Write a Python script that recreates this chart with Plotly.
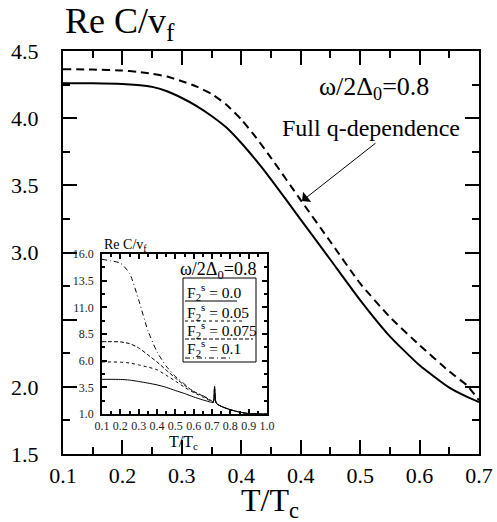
import plotly.graph_objects as go

# ---------------- data ----------------
# main panel
t_main = [0.10, 0.15, 0.20, 0.225, 0.25, 0.275, 0.30, 0.325, 0.35, 0.375, 0.40, 0.425, 0.45,
          0.50, 0.55, 0.60, 0.65, 0.70, 0.75, 0.78, 0.80]
re_solid = [4.26, 4.26, 4.255, 4.247, 4.233, 4.20, 4.15, 4.09, 4.016, 3.93, 3.815, 3.685, 3.545,
            3.245, 2.946, 2.646, 2.376, 2.16, 1.994, 1.925, 1.887]
re_dashed = [4.365, 4.362, 4.355, 4.345, 4.33, 4.31, 4.275, 4.235, 4.18, 4.10, 3.99, 3.855, 3.705,
             3.39, 3.08, 2.77, 2.52, 2.31, 2.115, 2.01, 1.90]
main_xtick_vals = [0.1, 0.2, 0.3, 0.4, 0.5, 0.6, 0.7, 0.8]
main_xtick_text = ["0.1", "0.2", "0.3", "0.4", "0.4", "0.5", "0.6", "0.7"]
main_ytick_vals = [1.5, 2.0, 2.5, 3.0, 3.5, 4.0, 4.5]
main_ytick_text = ["1.5", "2.0", "", "3.0", "3.5", "4.0", "4.5"]

# inset panel
t_in = [0.10, 0.15, 0.20, 0.25, 0.30, 0.35, 0.40, 0.45, 0.50, 0.55, 0.60, 0.65, 0.70,
        0.705, 0.71, 0.714, 0.718, 0.724, 0.75, 0.80, 0.85, 0.90, 0.95, 1.00]
tail = [2.06, 2.3, 3.56, 2.4, 2.0, 1.72, 1.4, 1.18, 1.04, 1.0, 1.0]
f_000 = [4.25, 4.25, 4.24, 4.18, 4.05, 3.90, 3.73, 3.50, 3.20, 2.92, 2.60, 2.32, 2.08] + tail
f_005 = [5.88, 5.88, 5.86, 5.78, 5.60, 5.40, 5.15, 4.63, 4.09, 3.51, 3.01, 2.59, 2.15] + tail
f_0075 = [7.78, 7.78, 7.76, 7.60, 7.20, 6.55, 5.88, 5.12, 4.38, 3.69, 3.12, 2.69, 2.20] + tail
f_010 = [15.5, 15.35, 15.15, 14.2, 11.7, 8.84, 6.83, 5.49, 4.53, 3.80, 3.08, 2.72, 2.20] + tail
inset_series = [
    ("F<sub>2</sub><sup>s</sup> = 0.0", f_000, "solid"),
    ("F<sub>2</sub><sup>s</sup> = 0.05", f_005, "dot"),
    ("F<sub>2</sub><sup>s</sup> = 0.075", f_0075, "4px,2px"),
    ("F<sub>2</sub><sup>s</sup> = 0.1", f_010, "5px,3px,1px,3px"),
]
in_xtick_vals = [0.1, 0.2, 0.3, 0.4, 0.5, 0.6, 0.7, 0.8, 0.9, 1.0]
in_ytick_vals = [1.0, 3.5, 6.0, 8.5, 11.0, 13.5, 16.0]

# ---------------- layout helpers ----------------
W, H = 497, 522
L, R, T, B = 63, 479, 51, 454
FONT = "Liberation Serif"


def px(x):
    return (x - L) / (R - L)


def py(y):
    return (B - y) / (B - T)


fig = go.Figure()
fig.add_trace(go.Scatter(x=t_main, y=re_solid, mode="lines", line_shape="spline",
                         line=dict(color="black", width=2, smoothing=0.5), xaxis="x", yaxis="y"))
fig.add_trace(go.Scatter(x=t_main, y=re_dashed, mode="lines", line_shape="spline",
                         line=dict(color="black", width=2, dash="8px,5px", smoothing=0.5),
                         xaxis="x", yaxis="y"))

for name, ys, dash in inset_series:
    fig.add_trace(go.Scatter(x=t_in, y=ys, mode="lines", line_shape="spline",
                             line=dict(color="black", width=1, dash=dash, smoothing=0.6),
                             xaxis="x2", yaxis="y2"))

main_ax = dict(showline=True, linewidth=2, linecolor="black", mirror="ticks",
               ticks="inside", tickwidth=2, ticklen=14, tickcolor="black",
               showgrid=False, zeroline=False, automargin=False,
               tickfont=dict(family=FONT, size=22, color="black"))

fig.update_layout(
    width=W, height=H,
    margin=dict(l=L, r=W - R, t=T, b=H - B),
    paper_bgcolor="white", plot_bgcolor="white",
    showlegend=False,
    font=dict(family=FONT, color="black"),
    xaxis=dict(main_ax, range=[0.1, 0.8], tickvals=main_xtick_vals, ticktext=main_xtick_text,
               minor=dict(ticks="inside", ticklen=7, tickwidth=1.5, tickcolor="black",
                          tickvals=[0.15, 0.25, 0.35, 0.45, 0.55, 0.65, 0.75]),
               ticklabelstandoff=1),
    yaxis=dict(main_ax, range=[1.5, 4.5], tickvals=main_ytick_vals, ticktext=main_ytick_text,
               minor=dict(ticks="inside", ticklen=7, tickwidth=1.5, tickcolor="black",
                          tickvals=[1.75, 2.25, 2.75, 3.25, 3.75, 4.25]),
               ticklabelstandoff=18),
    xaxis2=dict(domain=[px(102), px(267)], anchor="y2", range=[0.1, 1.0],
                tickvals=in_xtick_vals, ticktext=[f"{v:.1f}" for v in in_xtick_vals],
                showline=True, linewidth=1.5, linecolor="black", mirror="ticks",
                ticks="inside", ticklen=5, tickwidth=1.5, tickcolor="black",
                minor=dict(ticks="inside", ticklen=3, tickcolor="black", dtick=0.05, tick0=0.1),
                showgrid=False, zeroline=False, ticklabelstandoff=0, automargin=False,
                tickfont=dict(family=FONT, size=12, color="#222")),
    yaxis2=dict(domain=[py(414), py(254)], anchor="x2", range=[1.0, 16.0],
                tickvals=in_ytick_vals, ticktext=[f"{v:.1f}" for v in in_ytick_vals],
                showline=True, linewidth=1.5, linecolor="black", mirror="ticks",
                ticks="inside", ticklen=5, tickwidth=1.5, tickcolor="black",
                minor=dict(ticks="inside", ticklen=3, tickcolor="black", dtick=1.25, tick0=1.0),
                showgrid=False, zeroline=False, ticklabelstandoff=4, automargin=False,
                tickfont=dict(family=FONT, size=12, color="#222")),
)

ann = []
ann.append(dict(text="Re C/v<sub>f</sub>", x=px(63), y=py(24), xref="paper", yref="paper",
                xanchor="left", yanchor="middle", showarrow=False,
                font=dict(family=FONT, size=36, color="black")))
ann.append(dict(text="T/T<sub>c</sub>", x=px(270), y=py(502), xref="paper", yref="paper",
                xanchor="center", yanchor="middle", showarrow=False,
                font=dict(family=FONT, size=32, color="black")))
ann.append(dict(text="ω/2Δ<sub>0</sub>=0.8", x=px(374), y=py(88), xref="paper", yref="paper",
                xanchor="center", yanchor="middle", showarrow=False,
                font=dict(family=FONT, size=26, color="black")))
ann.append(dict(text="Full q-dependence", x=px(371), y=py(128), xref="paper", yref="paper",
                xanchor="center", yanchor="middle", showarrow=False,
                font=dict(family=FONT, size=24, color="black")))
ann.append(dict(text="", x=px(302), y=py(201), xref="paper", yref="paper",
                ax=75, ay=-59, showarrow=True, arrowhead=1, arrowsize=2.2,
                arrowwidth=1, arrowcolor="black"))
ann.append(dict(text="Re C/v<sub>f</sub>", x=px(102), y=py(245), xref="paper", yref="paper",
                xanchor="left", yanchor="middle", showarrow=False,
                font=dict(family=FONT, size=14, color="black")))
ann.append(dict(text="T/T<sub>c</sub>", x=px(183), y=py(442), xref="paper", yref="paper",
                xanchor="center", yanchor="middle", showarrow=False,
                font=dict(family=FONT, size=16, color="black")))
ann.append(dict(text="ω/2Δ<sub>0</sub>=0.8", x=px(218), y=py(270), xref="paper", yref="paper",
                xanchor="center", yanchor="middle", showarrow=False,
                font=dict(family=FONT, size=18, color="black")))

shapes = [dict(type="rect", xref="paper", yref="paper", x0=px(183), x1=px(256),
               y0=py(362), y1=py(278), line=dict(color="black", width=1))]
text_y = [292, 312, 330, 348]
line_y = [301, 321, 339, 358]
line_x1 = [237, 245, 253, 233]
for (name, ys, dash), ty, ly, lx in zip(inset_series, text_y, line_y, line_x1):
    ann.append(dict(text=name, x=px(185), y=py(ty), xref="paper", yref="paper",
                    xanchor="left", yanchor="middle", showarrow=False,
                    font=dict(family=FONT, size=15.5, color="black")))
    shapes.append(dict(type="line", xref="paper", yref="paper", x0=px(185), x1=px(lx),
                       y0=py(ly), y1=py(ly), line=dict(color="black", width=1, dash=dash)))

fig.update_layout(annotations=ann, shapes=shapes)
fig.write_html("out.html")
